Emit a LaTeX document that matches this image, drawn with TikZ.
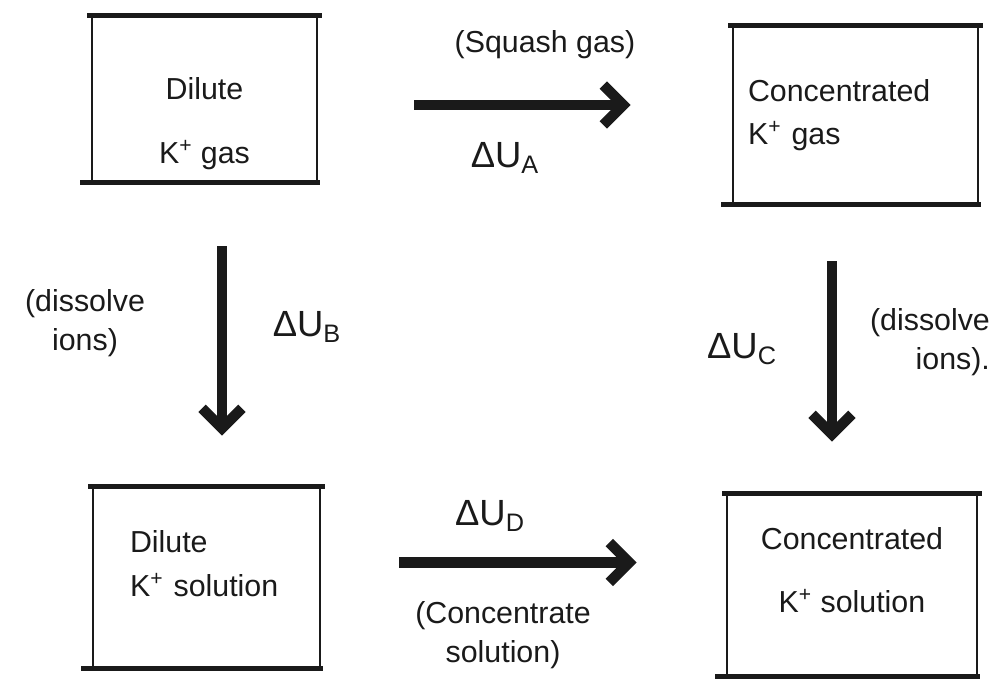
\documentclass[tikz,border=0pt]{standalone}
\usepackage{fontspec}
\setmainfont{Liberation Sans}
\usetikzlibrary{arrows.meta,positioning}
\definecolor{ink}{HTML}{1A1A1A}
\tikzset{
  thickedge/.style={draw=ink,line width=2.6pt},
  box/.style={draw=ink,line width=1.5pt,font=\LARGE,text=ink,align=center,
    inner sep=0pt,
    append after command={
      ([xshift=-2pt]\tikzlastnode.north west) edge[thickedge] ([xshift=2pt]\tikzlastnode.north east)
      ([xshift=-6pt]\tikzlastnode.south west) edge[thickedge] ([xshift=1pt]\tikzlastnode.south east)}},
  arrow/.style={-{Straight Barb[length=4mm,width=8mm]},line width=6pt,draw=ink},
  note/.style={font=\LARGE,text=ink,align=center,inner sep=1pt},
  delta/.style={font=\huge,text=ink,inner sep=1pt}
}

\begin{document}
\begin{tikzpicture}[x=0.02cm,y=-0.02cm]
\useasboundingbox (0,0) rectangle (992,679);

% the four states
\node[box,minimum width=4.5cm,minimum height=3.28cm] (dgas) at (204.5,99)
  {\rule{0pt}{1.43cm}Dilute\\[5mm]K\textsuperscript{+} gas};
\node[box,minimum width=4.9cm,minimum height=3.52cm,text width=4.3cm,
  align=left,inner xsep=3mm] (cgas) at (855.5,115)
  {Concentrated\\[1mm]K\textsuperscript{+} gas};
\node[box,minimum width=4.54cm,minimum height=3.58cm,text width=3.06cm,
  align=left,inner xsep=7.4mm] (dsol) at (206.5,577.5)
  {Dilute\\[1mm]K\textsuperscript{+} solution\rule[-0.55cm]{0pt}{0.55cm}};
\node[box,minimum width=5cm,minimum height=3.6cm] (csol) at (852,585)
  {Concentrated\\[5mm]K\textsuperscript{+} solution\rule[-0.6cm]{0pt}{0.6cm}};

% steps
\draw[arrow,shorten <=1.92cm,shorten >=2.02cm]
  ([yshift=-1.2mm]dgas.east) -- ([yshift=-1.2mm]dgas.east -| cgas.west)
  node[note,midway,xshift=4mm,yshift=12mm] (squash) {(Squash gas)}
  node[delta,midway,xshift=-4mm,yshift=-10.6mm] (dua) {ΔU\textsubscript{A}};
\draw[arrow,shorten <=1.28cm,shorten >=1.02cm]
  ([xshift=3.5mm]dgas.south) -- ([xshift=3.5mm]dgas.south |- dsol.north)
  node[note,midway,xshift=-27.4mm,yshift=2.3mm] (dissl) {(dissolve\\ions)}
  node[delta,midway,xshift=17mm,yshift=1.5mm] (dub) {ΔU\textsubscript{B}};
\draw[arrow,shorten <=1.14cm,shorten >=1.04cm]
  ([xshift=-4.7mm]cgas.south) -- ([xshift=-4.7mm]cgas.south |- csol.north)
  node[delta,midway,xshift=-18mm] (duc) {ΔU\textsubscript{C}}
  node[note,midway,align=right,xshift=19.6mm,yshift=1.4mm] (dissr) {(dissolve\\ions).};
\draw[arrow,shorten <=1.56cm,shorten >=1.78cm]
  ([yshift=3mm]dsol.east) -- ([yshift=3mm]dsol.east -| csol.west)
  node[delta,midway,xshift=-6.7mm,yshift=9.3mm] (dud) {ΔU\textsubscript{D}}
  node[note,midway,xshift=-4.1mm,yshift=-14.5mm] (conc) {(Concentrate\\solution)};
\end{tikzpicture}
\end{document}
